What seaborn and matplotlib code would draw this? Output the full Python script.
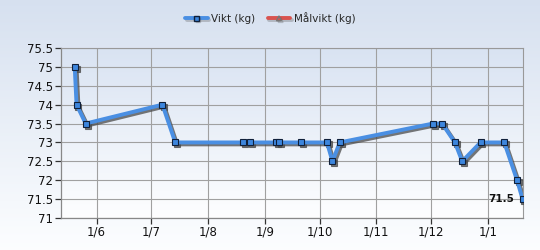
import numpy as np
import pandas as pd
import matplotlib
matplotlib.use("Agg")
import matplotlib.pyplot as plt
import matplotlib.patheffects as pe
import matplotlib.transforms as mtransforms
from matplotlib.lines import Line2D
import seaborn as sns

# ---- data ----
dates = ["2012-05-20", "2012-05-21", "2012-05-26", "2012-07-07", "2012-07-14",
         "2012-08-20", "2012-08-24", "2012-09-07", "2012-09-09", "2012-09-21",
         "2012-10-05", "2012-10-08", "2012-10-12", "2012-12-02", "2012-12-07",
         "2012-12-14", "2012-12-18", "2012-12-28", "2013-01-10", "2013-01-17",
         "2013-01-20"]
vikt = [75.0, 74.0, 73.5, 74.0, 73.0,
        73.0, 73.0, 73.0, 73.0, 73.0,
        73.0, 72.5, 73.0, 73.5, 73.5,
        73.0, 72.5, 73.0, 73.0, 72.0,
        71.5]
yticks = [71, 71.5, 72, 72.5, 73, 73.5, 74, 74.5, 75, 75.5]
ytick_labels = ["71", "71.5", "72", "72.5", "73", "73.5", "74", "74.5", "75", "75.5"]
xtick_dates = ["2012-06-01", "2012-07-01", "2012-08-01", "2012-09-01",
               "2012-10-01", "2012-11-01", "2012-12-01", "2013-01-01"]
xtick_labels = ["1/6", "1/7", "1/8", "1/9", "1/10", "1/11", "1/12", "1/1"]
series_names = ["Vikt (kg)", "Målvikt (kg)"]

df = pd.DataFrame({"date": pd.to_datetime(dates), "kg": vikt})

sns.set_theme(style="white")
plt.rcParams['font.family'] = ['DejaVu Sans']

fig = plt.figure(figsize=(5.4, 2.5), dpi=100)

# figure gradient background
bg = fig.add_axes([0, 0, 1, 1], zorder=-10)
grad = np.linspace(0, 1, 256).reshape(-1, 1)
top = np.array([0.84, 0.88, 0.94])
bot = np.array([0.99, 0.995, 1.0])
img = top[None, None, :] * (1 - grad[:, :, None]) + bot[None, None, :] * grad[:, :, None]
bg.imshow(img, aspect="auto", extent=[0, 1, 0, 1])
bg.set_axis_off()

ax = fig.add_axes([61/540, 32/250, (523-61)/540, (218-48)/250])
ax.set_facecolor("none")
top2 = np.array([0.85, 0.89, 0.95])
bot2 = np.array([0.995, 0.997, 1.0])
img2 = top2[None, None, :] * (1 - grad[:, :, None]) + bot2[None, None, :] * grad[:, :, None]
ax.imshow(img2, aspect="auto", extent=[0, 1, 0, 1], transform=ax.transAxes, zorder=0)

line_color = "#4a8fe3"
shadow = "#4a4a4a"
# shadow series (same data, offset down-right)
sns.lineplot(data=df, x="date", y="kg", ax=ax, color=shadow, linewidth=2.8, alpha=0.75,
             marker="s", markersize=4.2, markerfacecolor=shadow,
             markeredgecolor=shadow, markeredgewidth=0.8, zorder=4)
shadow_line = ax.get_lines()[-1]
shadow_line.set_transform(mtransforms.offset_copy(ax.transData, fig=fig, x=1.4, y=-1.4, units="points"))
# main series
sns.lineplot(data=df, x="date", y="kg", ax=ax, color=line_color, linewidth=2.8,
             marker="s", markersize=4.2, markerfacecolor="#3d86dd",
             markeredgecolor="#10203a", markeredgewidth=0.8, zorder=5)

ax.set_xlim(pd.Timestamp("2012-05-12 12:00"), pd.Timestamp("2013-01-20 06:00"))
ax.set_ylim(71, 75.5)
ax.set_yticks(yticks)
ax.set_yticklabels(ytick_labels)
ax.set_xticks(pd.to_datetime(xtick_dates))
ax.set_xticklabels(xtick_labels)
ax.set_xlabel("")
ax.set_ylabel("")
ax.grid(True, color="#a0a0a0", linewidth=0.8, zorder=1)
ax.set_axisbelow(True)
for s in ["top", "right"]:
    ax.spines[s].set_color("#999999")
    ax.spines[s].set_linewidth(0.8)
for s in ["left", "bottom"]:
    ax.spines[s].set_color("#888888")
    ax.spines[s].set_linewidth(0.9)
ax.tick_params(axis="both", length=4, width=0.9, color="#333333", labelsize=8.5,
               labelcolor="#111111", pad=2, direction="out")
ax.tick_params(axis="y", left=True)
ax.tick_params(axis="x", bottom=True, pad=1.5)

ax.annotate("71.5", xy=(df["date"].iloc[-1], vikt[-1]), xytext=(-6, 0),
            textcoords="offset points", ha="right", va="center",
            fontsize=7.5, fontweight="bold", color="#111111", zorder=6)

h1 = Line2D([], [], color=line_color, linewidth=2.8, marker="s", markersize=3.5,
            markerfacecolor="#3d86dd", markeredgecolor="#10203a",
            path_effects=[pe.SimpleLineShadow(offset=(1.2, -1.2), shadow_color="#555555"), pe.Normal()])
h2 = Line2D([], [], color="#d9534f", linewidth=2.8, marker="^", markersize=3.5,
            markerfacecolor="#d9534f", markeredgecolor="#777777",
            path_effects=[pe.SimpleLineShadow(offset=(1.2, -1.2), shadow_color="#555555"), pe.Normal()])
fig.legend([h1, h2], series_names, loc="center", bbox_to_anchor=(0.5, 1 - 18/250),
           ncol=2, frameon=False, fontsize=7.5, handlelength=2.2, handletextpad=0.3,
           columnspacing=1.2)

fig.savefig("out.png", dpi=100)
